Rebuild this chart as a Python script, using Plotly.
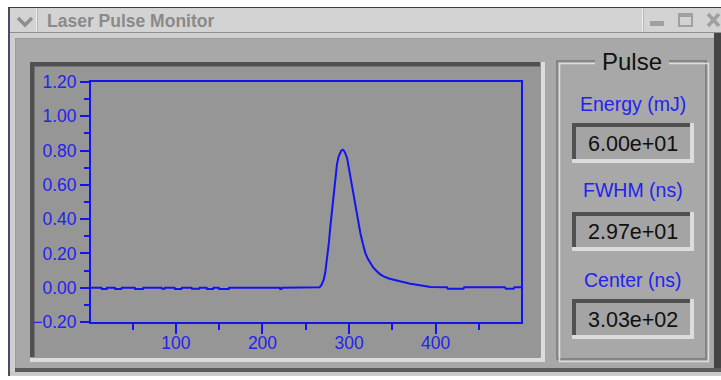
import plotly.graph_objects as go

# ---------------- data ----------------
time_ns = [2, 14, 14.5, 20, 20.5, 29.5, 30, 37, 37.5, 52.5, 53, 62, 62.5, 83.5, 84, 87, 87.5,
           98.5, 99, 106.5, 107, 118, 118.5, 127, 127.5, 135.5, 136, 143, 143.5, 149.5, 150,
           161, 161.5, 220, 220.5, 222, 222.5, 265, 266, 268, 270.7, 272.5, 274.6, 276.5,
           278.4, 280, 281.5, 283, 284.2, 286, 288, 290, 291, 292.6, 294, 295.5, 297.7, 299.5,
           301.5, 303.5, 305.3, 307.2, 309.2, 311, 313, 316, 318.8, 321.5, 324.6, 328, 332.3,
           336, 340, 345, 351.5, 359, 365, 370.8, 378, 386, 394, 413, 414, 432, 433, 480, 481,
           490, 491, 499]
signal = [0.0, 0.0, -0.008, -0.008, 0.0, 0.0, -0.008, -0.008, 0.0, 0.0, -0.008, -0.008, 0.0,
          0.0, -0.006, -0.006, 0.0, 0.0, -0.008, -0.008, 0.0, 0.0, -0.006, -0.006, 0.0, 0.0,
          -0.008, -0.008, 0.0, 0.0, -0.008, -0.008, 0.0, 0.0, -0.008, -0.008, 0.0, 0.0, 0.003,
          0.015, 0.047, 0.09, 0.163, 0.255, 0.358, 0.43, 0.494, 0.58, 0.649, 0.72, 0.766, 0.792,
          0.80, 0.805, 0.80, 0.785, 0.757, 0.705, 0.649, 0.59, 0.533, 0.473, 0.416, 0.365, 0.319,
          0.255, 0.202, 0.17, 0.144, 0.117, 0.095, 0.078, 0.066, 0.055, 0.047, 0.037, 0.029,
          0.023, 0.017, 0.012, 0.004, 0.003, -0.006, -0.006, 0.003, 0.003, -0.006, -0.006,
          0.003, 0.003]

x_ticks = [100, 200, 300, 400]
y_ticks = [-0.2, 0.0, 0.2, 0.4, 0.6, 0.8, 1.0, 1.2]

window_title = "Laser Pulse Monitor"
group_title = "Pulse"
field_labels = ["Energy (mJ)", "FWHM (ns)", "Center (ns)"]
field_values = ["6.00e+01", "2.97e+01", "3.03e+02"]

# ---------------- geometry helpers (pixel -> paper) ----------------
W, H = 721, 380
L, T, PW, PH = 91, 82, 430, 240


def px(x):
    return (x - L) / PW


def py(y):
    return (T + PH - y) / PH


shapes = []


def rect(x0, y0, x1, y1, fill, layer="below"):
    shapes.append(dict(type="rect", xref="paper", yref="paper",
                       x0=px(x0), x1=px(x1), y0=py(y1), y1=py(y0),
                       fillcolor=fill, line=dict(width=0), layer=layer))


def outline(x0, y0, x1, y1, color, w=1.5):
    shapes.append(dict(type="rect", xref="paper", yref="paper",
                       x0=px(x0), x1=px(x1), y0=py(y1), y1=py(y0),
                       fillcolor="rgba(0,0,0,0)", line=dict(width=w, color=color),
                       layer="below"))


def line(x0, y0, x1, y1, color, w=1.0):
    shapes.append(dict(type="line", xref="paper", yref="paper",
                       x0=px(x0), x1=px(x1), y0=py(y0), y1=py(y1),
                       line=dict(width=w, color=color), layer="below"))


def sunken(x0, y0, x1, y1, b, inner, dark="#505050", light="#dcdcdc"):
    rect(x0, y0, x1, y1, light)
    rect(x0, y0, x1 - b, y1 - b, dark)
    rect(x0 + b, y0 + b, x1 - b, y1 - b, inner)


BODY = "#a8a8a8"
PLOT_BG = "#969696"
BLUE = "#1414f0"
BLUE_TXT = "#2323ee"

# window frame
rect(8, 7, 721, 376, "#cfcfcf")
rect(8, 7, 10, 376, "#4a4a60")
rect(8, 7, 721, 8, "#3c3c3c")
rect(10, 8, 721, 32, "#d3d3d3")
rect(10, 32, 721, 33, "#8e8e8e")
line(36.5, 9, 36.5, 31, "#eeeeee", 1)
line(37.5, 9, 37.5, 31, "#b8b8b8", 1)
line(642.5, 9, 642.5, 31, "#eeeeee", 1)
line(643.5, 9, 643.5, 31, "#b8b8b8", 1)
rect(15, 38, 714, 368, "#9c9c9c")
rect(16, 39, 714, 368, BODY)
rect(714, 33, 721, 372, "#454545")
rect(15, 368, 721, 372, "#5a5a5a")
rect(10, 372, 721, 375, "#c8c8c8")

# title bar icons
shapes.append(dict(type="path", xref="paper", yref="paper",
                   path=f"M {px(18)},{py(18)} L {px(25)},{py(25)} L {px(32)},{py(18)}",
                   line=dict(color="#8e8e8e", width=3.5), layer="below"))
rect(650, 21, 664, 26, "#a0a0a0")
outline(679, 14, 692, 26, "#a0a0a0", 2)
rect(678, 13, 693, 17, "#a0a0a0")
line(708, 14, 719, 26, "#a0a0a0", 3.5)
line(708, 26, 719, 14, "#a0a0a0", 3.5)

# plot panel (sunken)
sunken(30, 62, 545, 362, 4.5, PLOT_BG)

# group box (etched)
outline(557, 61, 706, 359, "#7a7a7a", 1.5)
outline(559.5, 63.5, 708.5, 361.5, "#dcdcdc", 1.5)
rect(595, 54, 669, 69, BODY)

# value boxes
box_y = [(123, 163), (212, 251), (299, 339)]
for (y0, y1) in box_y:
    sunken(572, y0, 694, y1, 4, "#a4a4a4")

annotations = [
    dict(text=window_title, x=px(45), y=py(21), xanchor="left", yanchor="middle",
         font=dict(family="Liberation Sans", size=17.5, color="#8a8a8a", weight="bold")),
    dict(text=group_title, x=px(632), y=py(61.5), xanchor="center", yanchor="middle",
         font=dict(family="Liberation Sans", size=24, color="#111111")),
]
label_y = [104, 190, 280]
for lab, ly in zip(field_labels, label_y):
    annotations.append(dict(text=lab, x=px(633), y=py(ly), xanchor="center", yanchor="middle",
                            font=dict(family="Liberation Sans", size=19.5, color=BLUE_TXT)))
for val, (y0, y1) in zip(field_values, box_y):
    annotations.append(dict(text=val, x=px(633), y=py((y0 + y1) / 2 + 0.5), xanchor="center",
                            yanchor="middle",
                            font=dict(family="Liberation Sans", size=21.5, color="#101010")))
for a in annotations:
    a.update(xref="paper", yref="paper", showarrow=False)

fig = go.Figure()
fig.add_trace(go.Scatter(x=time_ns, y=signal, mode="lines",
                         line=dict(color=BLUE, width=2), hoverinfo="skip"))

axis_common = dict(showgrid=False, zeroline=False, showline=True, mirror=True,
                   linecolor=BLUE, linewidth=2, ticks="outside", tickcolor=BLUE,
                   tickwidth=2, tickfont=dict(family="Liberation Sans", size=17.5,
                                              color=BLUE_TXT))
fig.update_layout(
    width=W, height=H, autosize=False,
    margin=dict(l=L, r=W - L - PW, t=T, b=H - T - PH, pad=0),
    paper_bgcolor="#ffffff", plot_bgcolor=PLOT_BG,
    showlegend=False,
    xaxis=dict(range=[2, 498.5], tickvals=x_ticks, ticklen=10, ticklabelstandoff=-6,
               minor=dict(dtick=50, tick0=0, ticklen=6, tickcolor=BLUE, tickwidth=2,
                          ticks="outside"),
               **axis_common),
    yaxis=dict(range=[-0.2, 1.2], tickvals=y_ticks, tickformat=".2f", ticklen=9,
               minor=dict(dtick=0.1, tick0=0, ticklen=5, tickcolor=BLUE, tickwidth=2,
                          ticks="outside"),
               **axis_common),
    shapes=shapes,
    annotations=annotations,
)

fig.write_html("out.html", config={"displayModeBar": False},
               post_script="document.body.style.margin='0';document.body.style.overflow='hidden';")
